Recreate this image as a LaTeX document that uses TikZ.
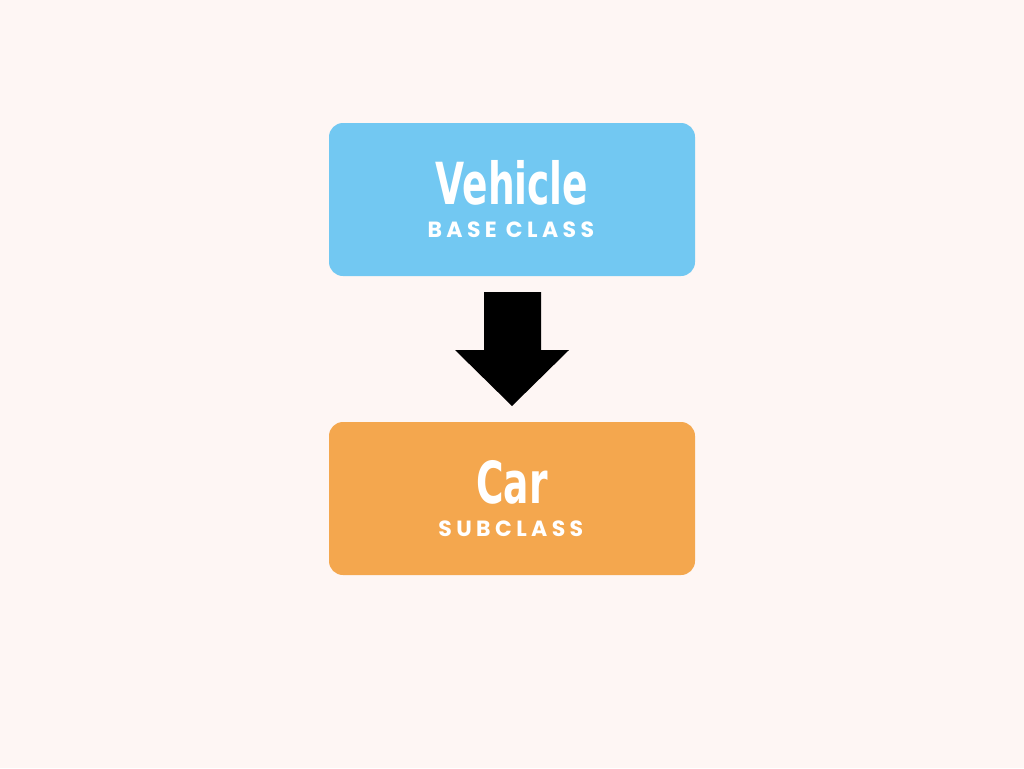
\documentclass[tikz,border=0pt]{standalone}
\usepackage{fontspec}
\newfontfamily\titlefont{DejaVu Sans Condensed Bold}
\newfontfamily\subfont[LetterSpace=20]{Poppins}
\definecolor{bg}{HTML}{FEF6F4}
\definecolor{blueb}{HTML}{72C8F2}
\definecolor{orangeb}{HTML}{F4A74E}
\begin{document}
\begin{tikzpicture}[x=1pt,y=-1pt,
  box/.style={rounded corners=14pt,minimum width=366pt,minimum height=153pt,inner sep=0pt},
  ttl/.style={text=white,font=\titlefont\fontsize{58}{58}\selectfont},
  sub/.style={text=white,font=\subfont\fontsize{22}{22}\selectfont}]
\fill[bg] (0,0) rectangle (1024,768);
\node[box,fill=blueb] (veh) at (512,199.5) {};
\node[box,fill=orangeb] (car) at (512,498.5) {};
\node[ttl] (vt) at (512,183) {\scalebox{0.72}[1]{Vehicle}};
\node[sub] (vs) at (513,230) {\textbf{BASE CLASS}};
\node[ttl] (ct) at (512,482) {\scalebox{0.72}[1]{Car}};
\node[sub] (cs) at (513,529) {\textbf{SUBCLASS}};
\fill[black] (484,292) -- (541,292) -- (541,350) -- (569,350) -- (512,406) -- (455,350) -- (484,350) -- cycle;
\end{tikzpicture}
\end{document}
